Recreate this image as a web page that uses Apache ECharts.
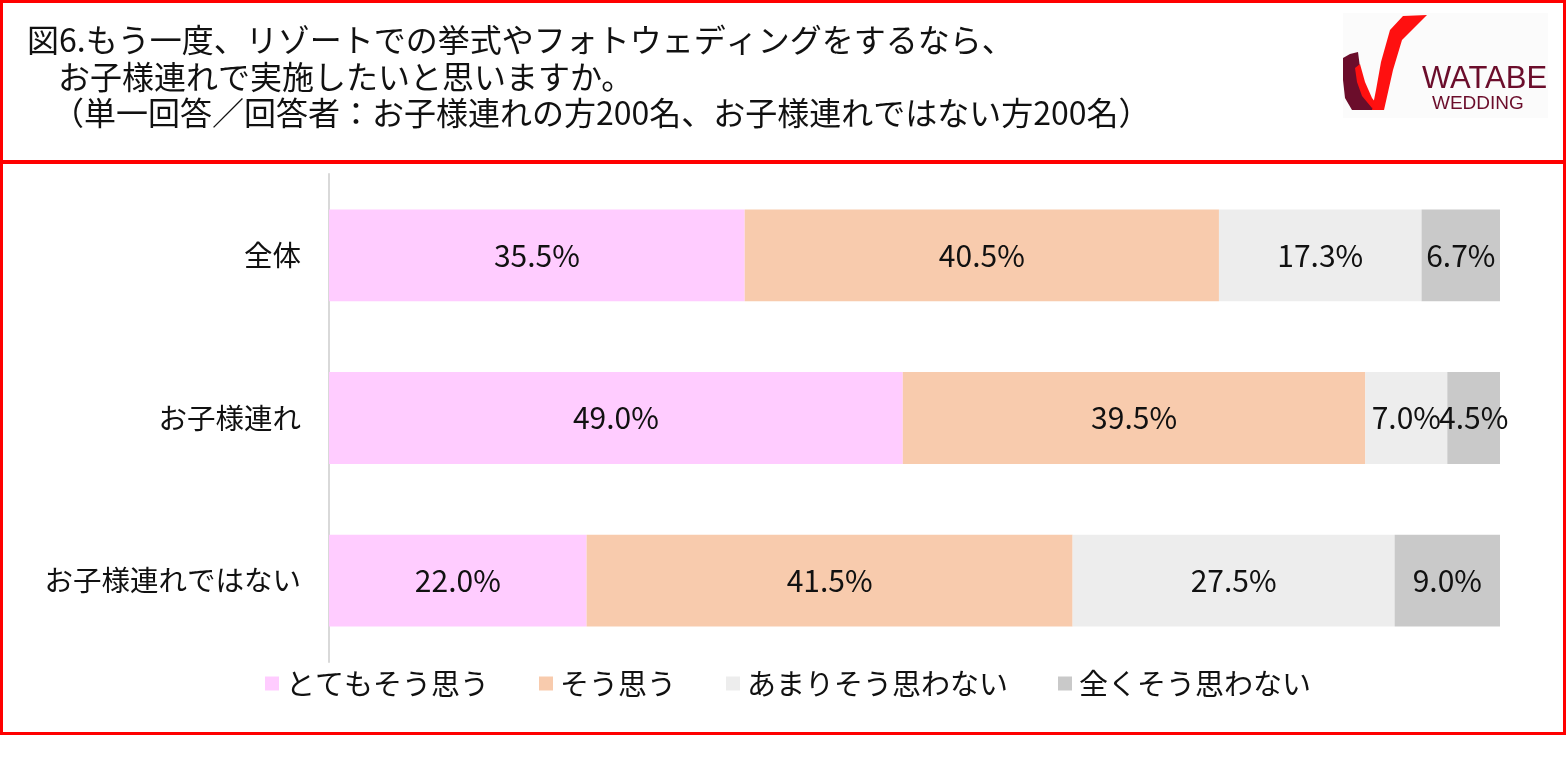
<!DOCTYPE html>
<html><head><meta charset="utf-8">
<script src="https://cdn.jsdelivr.net/npm/echarts@6/dist/echarts.min.js"></script>
<style>html,body{margin:0;padding:0;background:#fff;}#c{width:1566px;height:769px;}</style>
</head><body><div id="c"></div>
<script>
const categories = ['全体', 'お子様連れ', 'お子様連れではない'];
const seriesNames = ['とてもそう思う', 'そう思う', 'あまりそう思わない', '全くそう思わない'];
const verySo = [35.5, 49.0, 22.0];
const so = [40.5, 39.5, 41.5];
const notMuch = [17.3, 7.0, 27.5];
const notAtAll = [6.7, 4.5, 9.0];
const titleLines = [
  '図6.もう一度、リゾートでの挙式やフォトウェディングをするなら、',
  'お子様連れで実施したいと思いますか。',
  '（単一回答／回答者：お子様連れの方200名、お子様連れではない方200名）'
];
const colors = ['#FFCCFF', '#F8CBAD', '#EDEDED', '#C9C9C9'];
const font = '"Noto Sans CJK JP", "Noto Sans", sans-serif';

const chart = echarts.init(document.getElementById('c'), null, {renderer: 'canvas'});
const values = [verySo, so, notMuch, notAtAll];
const series = values.map((v, i) => ({
  name: seriesNames[i],
  type: 'bar',
  stack: 'total',
  barWidth: '56.5%',
  data: v,
  itemStyle: {color: colors[i]},
  label: {
    show: true, position: 'inside', color: '#111', fontSize: 30, fontFamily: font,
    formatter: p => p.value.toFixed(1) + '%'
  },
  emphasis: {disabled: true}
}));

chart.setOption({
  animation: false,
  textStyle: {fontFamily: font},
  grid: {left: 329, right: 66, top: 174, bottom: 107, containLabel: false},
  xAxis: {type: 'value', min: 0, max: 100, show: false},
  yAxis: {
    type: 'category', data: categories, inverse: true,
    axisLine: {show: true, lineStyle: {color: '#D9D9D9', width: 2}},
    axisTick: {show: false},
    axisLabel: {margin: 28, fontSize: 28.5, color: '#111', fontFamily: font}
  },
  legend: {
    data: seriesNames, left: 265, top: 669, padding: 0, itemWidth: 14, itemHeight: 14, itemGap: 50,
    icon: 'rect',
    textStyle: {fontSize: 29, color: '#111', fontFamily: font, padding: [0, 0, 0, 2]}
  },
  series: series,
  graphic: [
    {type: 'rect', shape: {x: 1.5, y: 1.5, width: 1563, height: 160}, style: {fill: 'none', stroke: '#FF0000', lineWidth: 3}},
    {type: 'rect', shape: {x: 1.5, y: 162.5, width: 1563, height: 571}, style: {fill: 'none', stroke: '#FF0000', lineWidth: 3}},
    {type: 'text', left: 27, top: 24, style: {text: titleLines[0], font: '32px ' + font, fill: '#111'}},
    {type: 'text', left: 58, top: 61, style: {text: titleLines[1], font: '32px ' + font, fill: '#111'}},
    {type: 'text', left: 52, top: 97, style: {text: titleLines[2], font: '32px ' + font, fill: '#111'}},
    // logo
    {type: 'rect', shape: {x: 1343, y: 13, width: 205, height: 105}, style: {fill: '#FBFBFB'}},
    {type: 'polygon', shape: {points: [[1343,58],[1350,54],[1358,52],[1361,75],[1367,93],[1376,104],[1382,110],[1352,110],[1345,98],[1343,80]]}, style: {fill: '#6B0D2B'}},
    {type: 'polygon', shape: {points: [[1355,68],[1360,64],[1365,82],[1372,98],[1378,106],[1372,108],[1362,96],[1357,82]]}, style: {fill: '#FF1010'}},
    {type: 'polygon', shape: {points: [[1372,110],[1384,110],[1393,70],[1402,40],[1427,15],[1403,16],[1390,30],[1381,62],[1376,90]]}, style: {fill: '#FF1010'}},
    {type: 'text', left: 1422, top: 64, style: {text: 'WATABE', font: '31px "Liberation Sans", sans-serif', fill: '#6B0D2B'}},
    {type: 'text', left: 1432, top: 94, style: {text: 'WEDDING', font: '19px "Liberation Sans", sans-serif', fill: '#6B0D2B'}}
  ]
});
</script></body></html>
